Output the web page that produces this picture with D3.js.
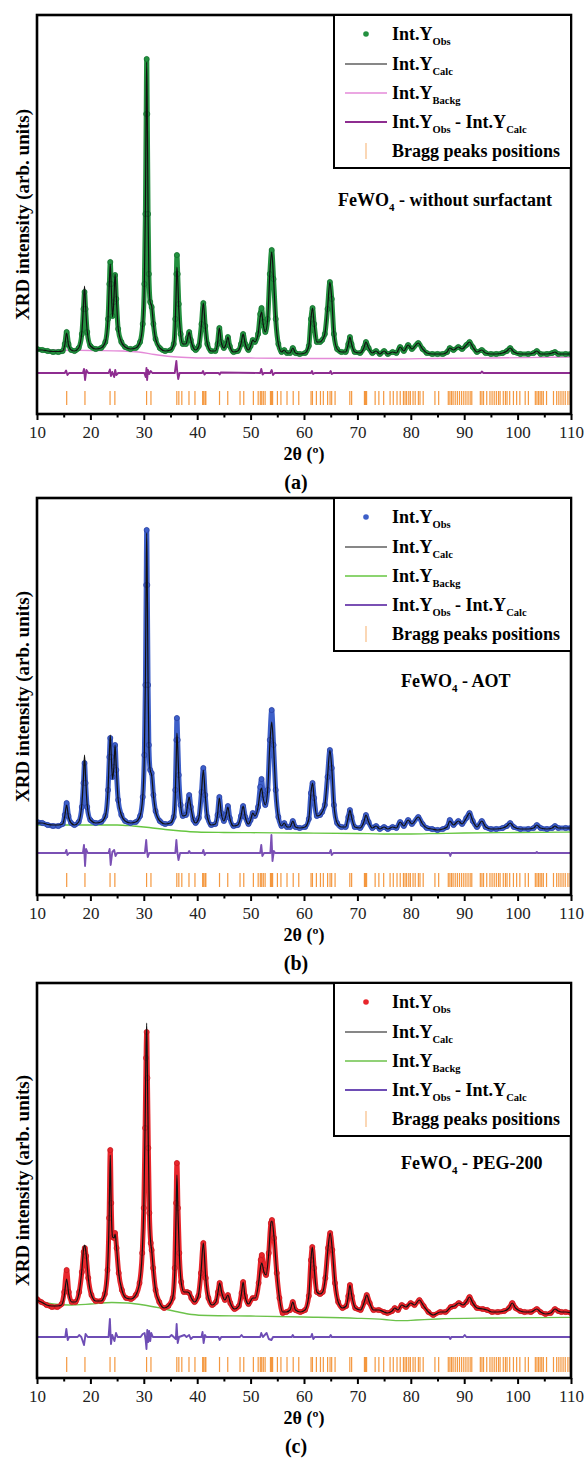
<!DOCTYPE html>
<html><head><meta charset="utf-8">
<script src="https://cdn.jsdelivr.net/npm/d3@7"></script>
<style>body{margin:0;background:#fff}svg{display:block}</style>
</head><body><svg id="chart" width="588" height="1459"></svg>
<script>
// ---------------- DATA ----------------
const xTickValues = [10,20,30,40,50,60,70,80,90,100,110];
const xMinorTicks = [15,25,35,45,55,65,75,85,95,105];
const panelLetters = ["(a)","(b)","(c)"];
const sampleNames = [" - without surfactant"," - AOT"," - PEG-200"];
const legendSubs = [["Obs"],["Calc"],["Backg"],["Obs","Calc"]];

// Bragg reflection positions (2θ, °) — same phase in all three panels
const braggPeaks = [15.56,18.98,23.68,24.58,30.52,31.34,36.18,36.56,37.12,38.46,39.58,41.02,41.22,41.48,41.62,44.18,45.72,48.02,48.72,50.52,51.42,51.82,52.08,52.38,52.72,53.72,53.92,54.12,55.02,55.68,56.82,57.98,59.02,61.32,61.58,62.32,63.08,63.62,64.42,64.88,65.18,65.82,68.58,68.92,71.32,71.52,71.72,73.32,74.02,74.92,76.12,76.72,77.42,78.02,78.62,78.92,79.22,79.62,79.92,80.42,80.82,81.42,81.72,82.32,84.52,85.22,87.02,87.32,87.62,87.92,88.32,88.72,89.12,89.52,89.92,90.32,90.72,91.12,91.42,93.02,93.32,93.62,94.22,94.82,95.22,95.62,96.02,96.42,96.72,97.32,97.72,98.02,98.52,99.22,99.82,100.42,101.42,102.02,103.32,103.62,103.92,104.22,104.52,104.82,105.42,106.72,107.32,107.72,108.12,108.52,108.92,109.42,109.82];

// [2θ, Int.Y_Obs, Int.Y_Calc] (arb. units)
const profileA = [[10,65,64],[11,64,64],[12,63,63],[13,62,62.5],[14,62,62.5],[14.8,63,63],[15.2,70,69],[15.55,82,81],[15.9,70,69],[16.4,64,64],[17,63,63],[17.8,66,66],[18.4,80,82],[18.7,105,108],[18.9,122,128],[19.1,105,108],[19.4,82,83],[20,68,68],[21,65,65],[22,66,66],[22.8,72,72],[23.3,95,95],[23.55,130,132],[23.72,152,150],[23.9,130,128],[24.15,98,97],[24.4,112,115],[24.62,139,140],[24.85,115,118],[25.2,85,86],[25.8,72,72],[26.5,67,67],[27.5,65,65],[28.5,66,66],[29.3,72,72],[29.8,90,90],[30.1,130,130],[30.3,200,205],[30.45,300,305],[30.54,355,352],[30.65,300,305],[30.8,200,200],[30.95,140,140],[31.2,112,112],[31.47,107,108],[31.8,90,90],[32.2,75,75],[33,66,66],[34,63,63],[35,64,64],[35.6,70,70],[35.9,95,92],[36.1,140,130],[36.2,159,147],[36.35,140,135],[36.55,110,105],[36.9,80,80],[37.3,70,70],[37.9,70,70],[38.2,76,76],[38.5,82,82],[38.8,74,74],[39.3,66,66],[39.7,64,64],[40.3,68,68],[40.8,90,90],[41.15,111,111],[41.5,88,88],[41.9,70,70],[42.6,63,63],[43.4,63,63],[43.8,70,70],[44.15,86,86],[44.5,72,72],[45,66,66],[45.4,70,70],[45.75,77,77],[46.1,68,68],[46.8,62,62],[47.6,63,63],[48.2,70,70],[48.6,80,80],[49,70,70],[49.6,64,64],[50,68,68],[50.4,74,74],[50.8,72,72],[51.4,80,80],[51.8,100,97],[52.05,106,102],[52.35,92,90],[52.75,82,82],[53.2,95,95],[53.6,140,140],[53.95,164,162],[54.3,135,135],[54.7,95,95],[55.2,70,70],[55.8,62,62],[56.3,64,64],[56.8,61,61],[57.4,61,61],[57.9,66,66],[58.4,61,61],[59.2,60,60],[60.2,61,61],[60.9,68,68],[61.3,95,95],[61.6,106,106],[61.9,90,90],[62.4,72,72],[63,72,72],[63.4,74,74],[63.9,80,80],[64.4,105,105],[64.85,132,132],[65.2,115,115],[65.6,80,80],[66.2,65,65],[67,62,62],[67.8,62,62],[68.3,70,70],[68.6,77,77],[68.9,70,70],[69.5,62,62],[70.5,61,61],[71.2,66,66],[71.6,72,72],[72.1,66,66],[72.8,61,61],[73.5,63,63],[74.2,60,60],[75,63,63],[75.7,60,60],[76.6,62,62],[77.3,61,61],[78,67,67],[78.7,63,63],[79.5,69,69],[80.2,65,65],[81.4,71,71],[82.2,65,65],[83,61,61],[84,60,60],[85,60,60],[86,60,60],[86.8,62,62],[87.3,66,66],[88,64,64],[88.9,67,67],[89.6,65,65],[90.4,69,69],[91,72,72],[91.6,67,67],[92.4,62,62],[93.3,64,64],[94,61,61],[95,60,60],[96,60,60],[97.2,61,61],[98,63,63],[98.6,66,66],[99.3,62,62],[100.5,60,60],[102,60,60],[103,61,61],[103.6,63,63],[104.3,60,60],[105.5,60,60],[106.5,61,61],[107,62,62],[107.6,60,60],[109,60,60],[110,60,60]];
const backgroundA = [[10,64.5],[14,64],[20,63.5],[26,63],[29,62],[32,59.5],[35,57.5],[38,56.5],[42,56],[50,56],[60,55.5],[70,55.5],[78,55],[84,55.5],[95,56],[110,57]];
const differenceA = [[10,0],[15.2,0],[15.45,2.5],[15.7,-2],[16,0],[18.6,0],[18.8,4],[19,-7],[19.25,3],[19.6,0],[23.4,0],[23.65,3.5],[23.85,-3],[24.1,1],[24.45,-4],[24.65,3],[24.85,-2],[25.2,0],[30.1,0],[30.35,-4],[30.5,5],[30.62,-7],[30.78,3],[31,-1],[31.3,2],[31.6,0],[35.8,0],[36.1,12],[36.25,2],[36.45,-6],[36.7,0],[40.9,0],[41.1,2],[41.35,-1.5],[41.6,0],[44,0],[44.2,-1.5],[44.4,0.5],[51.8,0],[52,4],[52.25,-1.5],[52.5,0],[53.7,0],[53.95,3],[54.2,-2],[54.5,0],[61.3,0],[61.5,2],[61.7,-1],[62,0],[64.8,0],[65,2],[65.2,-1],[65.5,0],[93.1,0],[93.3,1.5],[93.6,0],[110,0]];

const profileB = [[10,73,72],[11,72,72],[12,70,70.5],[13,69,70],[14,69,70],[14.8,71,71],[15.2,80,79],[15.55,92,90],[15.9,79,78],[16.4,72,72],[17,70,70],[17.8,73,73],[18.4,88,91],[18.7,112,118],[18.9,132,140],[19.1,112,118],[19.4,88,90],[20,75,75],[21,72,72],[22,73,73],[22.8,79,79],[23.3,105,105],[23.55,138,142],[23.72,157,160],[23.9,138,140],[24.15,118,116],[24.4,128,128],[24.62,150,150],[24.85,125,127],[25.2,95,95],[25.8,80,80],[26.5,74,74],[27.5,72,72],[28.5,73,73],[29.3,79,79],[29.8,98,98],[30.1,140,140],[30.3,210,215],[30.45,310,315],[30.54,365,362],[30.65,310,315],[30.8,210,210],[30.95,150,150],[31.2,125,125],[31.47,122,120],[31.8,100,100],[32.2,84,84],[33,74,74],[34,71,71],[35,72,72],[35.6,78,78],[35.9,105,100],[36.1,155,142],[36.2,177,162],[36.35,155,148],[36.55,120,118],[36.9,90,90],[37.3,79,79],[37.9,80,80],[38.2,90,90],[38.5,100,98],[38.8,88,88],[39.3,75,75],[39.7,72,72],[40.3,77,77],[40.8,103,103],[41.15,127,125],[41.5,100,100],[41.9,78,78],[42.6,70,70],[43.4,71,71],[43.8,80,80],[44.15,98,97],[44.5,82,82],[45,74,74],[45.4,80,80],[45.75,89,88],[46.1,77,77],[46.8,69,69],[47.6,70,70],[48.2,79,79],[48.6,89,89],[49,78,78],[49.6,71,71],[50,75,75],[50.4,82,82],[50.8,79,79],[51.4,88,88],[51.8,108,103],[52.05,116,107],[52.35,100,97],[52.75,90,90],[53.2,105,105],[53.6,155,150],[53.95,185,173],[54.3,150,148],[54.7,105,105],[55.2,78,78],[55.8,69,69],[56.3,72,72],[56.8,68,68],[57.4,68,68],[57.9,74,74],[58.4,68,68],[59.2,67,67],[60.2,68,68],[60.9,76,76],[61.3,102,102],[61.6,112,112],[61.9,97,97],[62.4,79,79],[63,80,80],[63.4,83,83],[63.9,90,90],[64.4,118,118],[64.85,145,145],[65.2,127,127],[65.6,90,90],[66.2,72,72],[67,68,68],[67.8,68,68],[68.3,78,78],[68.6,85,85],[68.9,78,78],[69.5,68,68],[70.5,67,67],[71.2,73,73],[71.6,80,80],[72.1,73,73],[72.8,67,67],[73.5,69,69],[74.2,66,66],[75,68,68],[75.7,66,66],[76.6,68,68],[77.3,67,67],[78,73,73],[78.7,69,69],[79.5,75,75],[80.2,71,71],[81.4,78,78],[82.2,71,71],[83,67,67],[84,66,66],[85,65,65],[86,66,66],[86.8,68,68],[87.3,75,74],[88,70,70],[88.9,74,74],[89.6,71,71],[90.4,77,77],[91,82,82],[91.6,74,74],[92.4,68,68],[93.3,74,74],[94,68,68],[95,66,66],[96,66,66],[97.2,67,67],[98,69,69],[98.6,72,72],[99.3,68,68],[100.5,66,66],[102,66,66],[103,67,67],[103.6,70,70],[104.3,67,67],[105.5,66,66],[106.5,67,67],[107,69,69],[107.6,67,67],[109,67,67],[110,67,67]];
const backgroundB = [[10,70],[15,70],[20,70],[25,70],[28,69],[31,67.5],[34,65.5],[37,64],[40,63],[45,62.5],[50,62.3],[60,62],[70,61.5],[75,61],[80,61],[85,61.5],[90,62],[100,62.5],[110,63]];
const differenceB = [[10,0],[15.3,0],[15.5,3],[15.7,-2],[16,0],[18.6,0],[18.8,8],[19,-13],[19.2,4],[19.5,0],[23.4,0],[23.6,4],[23.8,-12],[24.1,1],[24.45,3],[24.7,-3],[25,0],[30.2,0],[30.45,13],[30.6,2],[30.75,-4],[31,0],[35.9,0],[36.1,13],[36.3,0],[36.5,-7],[36.8,0],[38.3,0],[38.5,2],[38.7,0],[41,0],[41.15,3],[41.4,-2],[41.6,0],[51.8,0],[52,8],[52.2,-3],[52.5,0],[53.7,0],[53.9,18],[54.1,-8],[54.35,2],[54.6,0],[64.8,0],[65,3],[65.2,-2],[65.5,0],[87.2,0],[87.4,-3],[87.6,0],[103.4,0],[103.6,1],[103.8,0],[110,0]];

const profileC = [[10,79,78],[10.8,76,76],[11.8,73,73],[12.8,71,72],[13.8,71,72],[14.6,74,73],[15.1,86,82],[15.55,108,99],[15.95,86,84],[16.5,76,76],[17.2,76,76],[17.9,86,86],[18.4,106,108],[18.75,126,130],[18.95,130,133],[19.2,122,124],[19.6,100,100],[20.2,83,83],[21,77,77],[22,77,77],[22.7,84,84],[23.2,108,108],[23.5,160,158],[23.72,228,223],[23.9,175,170],[24.15,141,141],[24.45,140,140],[24.62,145,144],[24.9,130,130],[25.3,105,105],[25.9,88,88],[26.7,80,80],[27.6,79,79],[28.5,83,83],[29.2,95,95],[29.7,125,125],[30,170,170],[30.25,250,255],[30.42,320,330],[30.54,346,355],[30.68,300,305],[30.85,230,230],[31.05,165,162],[31.3,135,135],[31.47,128,128],[31.75,110,110],[32.2,88,88],[32.9,76,76],[33.8,70,70],[34.6,72,72],[35.4,80,80],[35.8,110,105],[36.05,175,165],[36.2,215,203],[36.4,170,165],[36.65,125,125],[37,96,96],[37.5,86,86],[38.1,86,86],[38.5,85,85],[38.9,80,80],[39.5,76,76],[40.2,82,82],[40.7,105,105],[41.15,135,135],[41.6,100,100],[42.1,80,80],[42.8,73,73],[43.5,76,76],[43.9,86,86],[44.2,95,95],[44.6,85,85],[45.2,78,78],[45.75,83,83],[46.2,75,75],[47,69,69],[47.8,72,72],[48.3,85,85],[48.6,96,96],[48.95,82,82],[49.6,74,74],[50.4,80,80],[50.9,80,80],[51.5,95,95],[51.9,118,112],[52.1,123,115],[52.5,108,106],[52.9,103,103],[53.4,125,125],[53.8,155,155],[54,158,157],[54.4,140,140],[54.9,105,105],[55.4,80,80],[56,65,66],[56.7,66,66],[57.4,68,68],[57.9,76,76],[58.4,68,68],[59.3,66,66],[60.2,68,68],[60.9,82,82],[61.3,118,118],[61.55,131,131],[61.9,110,110],[62.4,86,86],[63,84,84],[63.5,86,86],[64,100,100],[64.5,130,130],[64.9,145,145],[65.3,128,128],[65.8,95,95],[66.4,76,76],[67.2,70,70],[67.9,72,72],[68.3,82,82],[68.6,93,93],[68.95,82,82],[69.6,70,70],[70.6,68,68],[71.3,76,76],[71.75,83,83],[72.3,75,75],[73,68,68],[74,68,68],[75,66,66],[75.6,65,65],[76.5,67,67],[77,70,70],[77.6,68,68],[78.3,73,73],[79.1,71,71],[80,75,75],[80.7,73,73],[81.6,78,78],[82.4,72,72],[83.3,66,66],[84.2,63,63],[85.5,66,66],[86.5,66,66],[87.5,71,71],[88.2,72,72],[89,75,75],[89.8,73,73],[90.4,76,76],[91,81,81],[91.6,75,75],[92.4,70,70],[93.5,69,69],[94.3,68,68],[95.2,66,66],[96.3,66,66],[97.5,67,67],[98.4,70,70],[99,75,75],[99.6,70,70],[100.5,67,67],[101.3,66,66],[102.5,66,66],[103.6,69,69],[104.3,66,66],[105.2,64,64],[106.2,65,65],[107,69,69],[107.6,67,67],[108.2,66,66],[109,66,66],[110,65,65]];
const backgroundC = [[10,77],[13,74],[16,73],[20,74],[24,75.5],[27,75],[30,73],[33,70],[36,66.5],[39,63.5],[42,62.5],[50,62],[60,61],[70,59.7],[75,58.5],[78,57.3],[81,58],[85,59],[95,60],[110,60.7]];
const differenceC = [[10,0],[15.3,0],[15.5,8],[15.75,-3],[16,0],[17.6,0],[17.9,2],[18.3,0],[18.8,-8],[19.1,3],[19.5,0],[23.4,0],[23.65,18],[23.85,-7],[24.1,2],[24.5,-4],[24.8,4],[25.1,0],[29.4,0],[29.8,3],[30.15,4],[30.35,-3],[30.5,-12],[30.65,7],[30.85,-5],[31,6],[31.2,-4],[31.4,4],[31.7,0],[34.8,0],[35.2,2],[35.6,0],[36,-2],[36.15,13],[36.35,-6],[36.6,0],[37.6,2],[38,0],[38.5,2],[38.8,-2],[39.2,0],[40.8,0],[41,5],[41.2,-6],[41.45,2],[41.7,0],[44,0],[44.2,-3],[44.5,0],[48,0],[48.3,2],[48.6,0],[51.8,0],[52,4],[52.3,0],[53,4],[53.4,-2],[53.9,-3],[54.2,0],[57.7,0],[57.9,2],[58.1,0],[61.3,0],[61.5,3],[61.75,-2],[62,0],[64.8,0],[65,2],[65.2,0],[87.2,0],[87.4,-2],[87.6,0],[89.8,0],[90.1,2],[90.4,0],[110,0]];

// ---------------- LAYOUT / STYLE ----------------
const FONT = "'Liberation Serif','Times New Roman',serif";
const xLeft = 37, xRight = 571;
const x = d3.scaleLinear().domain([10,110]).range([xLeft, xRight]);
const BRAGG = '#f2861f';
const panels = [
  {top:15, bottom:414, profile:profileA, bkg:backgroundA, diff:differenceA, diffOffset:41, braggLow:9, braggHigh:23,
   nameX:338, nameDy:191, obs:'#23903f', obsEdge:'#0d6a2a', bkgColor:'#e48ad8', diffColor:'#8e2d90'},
  {top:498, bottom:895, profile:profileB, bkg:backgroundB, diff:differenceB, diffOffset:42, braggLow:8, braggHigh:22,
   nameX:401, nameDy:189, obs:'#3d5fc8', obsEdge:'#23389a', bkgColor:'#66c640', diffColor:'#7a50b4'},
  {top:983, bottom:1378, profile:profileC, bkg:backgroundC, diff:differenceC, diffOffset:41, braggLow:6, braggHigh:21,
   nameX:401, nameDy:186, obs:'#e8262c', obsEdge:'#c0141b', bkgColor:'#6cc24a', diffColor:'#6e4db5'}
];

const svg = d3.select('#chart');

panels.forEach((p, i) => {
  const H = p.bottom - p.top;
  const y = d3.scaleLinear().domain([0, H]).range([p.bottom, p.top]);
  const g = svg.append('g');
  const clipId = 'clip' + i;
  svg.append('clipPath').attr('id', clipId).append('rect')
    .attr('x', xLeft).attr('y', p.top).attr('width', xRight - xLeft).attr('height', H);
  const plot = g.append('g').attr('clip-path', `url(#${clipId})`);

  // background
  plot.append('path').datum(p.bkg)
    .attr('fill','none').attr('stroke', p.bkgColor).attr('stroke-width', 1.3)
    .attr('d', d3.line().x(d => x(d[0])).y(d => y(d[1])).curve(d3.curveMonotoneX));

  // observed: band + dots
  const obsLine = d3.line().x(d => x(d[0])).y(d => y(d[1])).curve(d3.curveMonotoneX);
  plot.append('path').datum(p.profile)
    .attr('fill','none').attr('stroke', p.obs).attr('stroke-width', 5)
    .attr('stroke-linejoin','round').attr('d', obsLine);
  plot.append('g').selectAll('circle').data(p.profile).join('circle')
    .attr('cx', d => x(d[0])).attr('cy', d => y(d[1])).attr('r', 2.6)
    .attr('fill', p.obs).attr('stroke', p.obsEdge).attr('stroke-width', 0.6);

  // calculated
  plot.append('path').datum(p.profile)
    .attr('fill','none').attr('stroke', '#111').attr('stroke-width', 1.2)
    .attr('d', d3.line().x(d => x(d[0])).y(d => y(d[2])).curve(d3.curveMonotoneX));

  // difference
  plot.append('path').datum(p.diff)
    .attr('fill','none').attr('stroke', p.diffColor).attr('stroke-width', 1.9)
    .attr('stroke-linejoin','round')
    .attr('d', d3.line().x(d => x(d[0])).y(d => y(p.diffOffset + d[1])));

  // Bragg positions
  plot.append('g').selectAll('line').data(braggPeaks).join('line')
    .attr('x1', d => x(d)).attr('x2', d => x(d))
    .attr('y1', y(p.braggLow)).attr('y2', y(p.braggHigh))
    .attr('stroke', BRAGG).attr('stroke-width', 1.2).attr('stroke-opacity', 0.85);

  // x axis
  const axis = d3.axisBottom(x).tickValues(xTickValues).tickSize(6).tickPadding(6).tickFormat(d3.format('d'));
  const ax = g.append('g').attr('transform', `translate(0,${p.bottom})`).call(axis);
  ax.select('.domain').remove();
  ax.selectAll('.tick line').attr('stroke','#000').attr('stroke-width', 2);
  ax.selectAll('.tick text').attr('font-family', FONT).attr('font-size', 17).attr('fill', '#222');
  const minor = d3.axisBottom(x).tickValues(xMinorTicks).tickSize(3.5).tickFormat('');
  const mx = g.append('g').attr('transform', `translate(0,${p.bottom})`).call(minor);
  mx.select('.domain').remove();
  mx.selectAll('.tick line').attr('stroke','#000').attr('stroke-width', 2);

  // frame
  g.append('rect').attr('x', xLeft).attr('y', p.top).attr('width', xRight - xLeft).attr('height', H)
    .attr('fill','none').attr('stroke','#000').attr('stroke-width', 2.6);

  // axis titles
  g.append('text').attr('x', (xLeft + xRight) / 2).attr('y', p.bottom + 46)
    .attr('text-anchor','middle').attr('font-family', FONT).attr('font-weight','bold').attr('font-size', 18)
    .text('2θ (º)');
  g.append('text').attr('transform', `translate(29,${(p.top + p.bottom) / 2}) rotate(-90)`)
    .attr('text-anchor','middle').attr('font-family', FONT).attr('font-weight','bold').attr('font-size', 19)
    .text('XRD intensity (arb. units)');
  g.append('text').attr('x', 296).attr('y', p.bottom + 75)
    .attr('text-anchor','middle').attr('font-family', FONT).attr('font-weight','bold').attr('font-size', 20)
    .text(panelLetters[i]);

  // sample name
  const nm = g.append('text').attr('x', p.nameX).attr('y', p.top + p.nameDy)
    .attr('font-family', FONT).attr('font-weight','bold').attr('font-size', 18);
  nm.append('tspan').text('FeWO');
  nm.append('tspan').attr('dy', 5).attr('font-size', 11).text('4');
  nm.append('tspan').attr('dy', -5).text(sampleNames[i]);

  // legend
  const lg = g.append('g');
  const lx0 = 334, ly0 = p.top, lh = 153;
  lg.append('rect').attr('x', lx0).attr('y', ly0).attr('width', xRight - lx0).attr('height', lh)
    .attr('fill','#fff').attr('stroke','#000').attr('stroke-width', 2);
  const rows = [19, 49, 78, 107, 136].map(d => ly0 + d);
  const symX = 366, lineX1 = 345, lineX2 = 387, textX = 392;
  lg.append('circle').attr('cx', symX).attr('cy', rows[0]).attr('r', 2.8).attr('fill', p.obs);
  lg.append('line').attr('x1', lineX1).attr('x2', lineX2).attr('y1', rows[1]).attr('y2', rows[1])
    .attr('stroke','#111').attr('stroke-width', 1.2);
  lg.append('line').attr('x1', lineX1).attr('x2', lineX2).attr('y1', rows[2]).attr('y2', rows[2])
    .attr('stroke', p.bkgColor).attr('stroke-width', 1.3);
  lg.append('line').attr('x1', lineX1).attr('x2', lineX2).attr('y1', rows[3]).attr('y2', rows[3])
    .attr('stroke', p.diffColor).attr('stroke-width', 1.9);
  lg.append('line').attr('x1', symX).attr('x2', symX).attr('y1', rows[4] - 8).attr('y2', rows[4] + 8)
    .attr('stroke', BRAGG).attr('stroke-width', 1.1).attr('stroke-opacity', 0.6);

  legendSubs.forEach((subs, k) => {
    const t = lg.append('text').attr('x', textX).attr('y', rows[k] + 6)
      .attr('font-family', FONT).attr('font-weight','bold').attr('font-size', 18);
    subs.forEach((s, j) => {
      t.append('tspan').attr('dy', j === 0 ? 0 : -5).text(j === 0 ? 'Int.Y' : ' - Int.Y');
      t.append('tspan').attr('dy', 5).attr('font-size', 10.5).text(s);
    });
  });
  lg.append('text').attr('x', textX).attr('y', rows[4] + 6)
    .attr('font-family', FONT).attr('font-weight','bold').attr('font-size', 18)
    .text('Bragg peaks positions');
});
</script></body></html>
